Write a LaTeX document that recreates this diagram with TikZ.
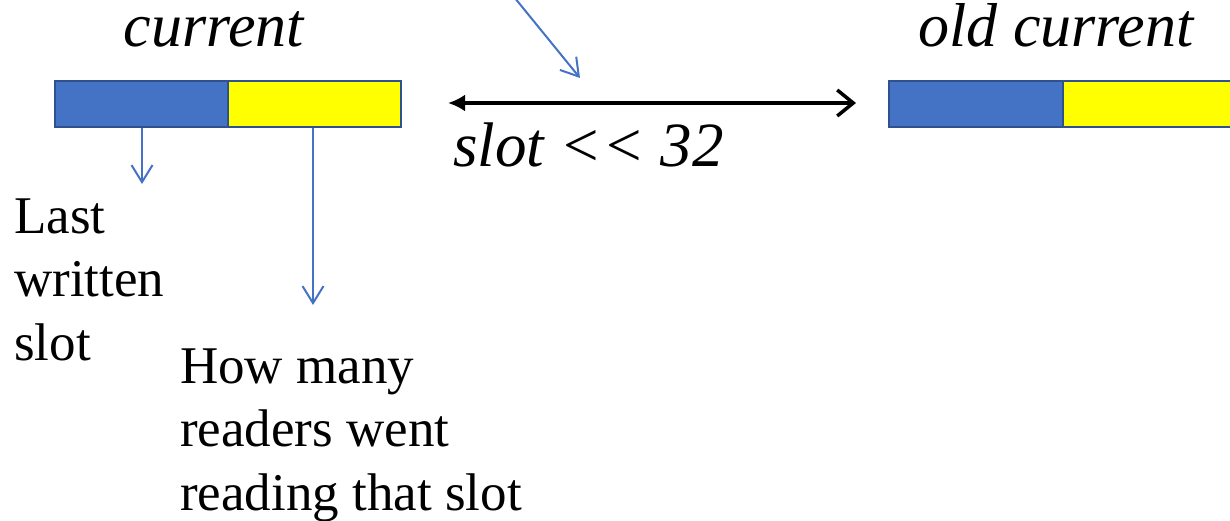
\documentclass[tikz,border=0pt]{standalone}
\usepackage{fontspec}
\setmainfont{Liberation Serif}
\usetikzlibrary{arrows.meta}
\definecolor{fillblue}{HTML}{4472C4}
\definecolor{edgeblue}{HTML}{2F528F}
\definecolor{lineblue}{HTML}{4472C4}
\definecolor{fillyellow}{HTML}{FFFF00}
\tikzset{
  half/.style={draw=edgeblue, line width=2pt, minimum height=46pt, inner sep=0pt, anchor=north west},
  bluehalf/.style={half, fill=fillblue},
  yellowhalf/.style={half, fill=fillyellow},
  pointer/.style={draw=lineblue, line width=2pt, -{Straight Barb[length=17pt,width=21pt]}},
  title/.style={font=\fontsize{62}{66}\selectfont\itshape, anchor=base, inner sep=0pt},
  note/.style={font=\fontsize{53}{63.5}\selectfont, align=left, anchor=base west, inner sep=0pt},
}
\begin{document}
\begin{tikzpicture}[x=1pt,y=-1pt]
\useasboundingbox (0,0) rectangle (1230,521);
\begin{scope}
\clip (0,0) rectangle (1230,521);
% left register
\node[bluehalf, minimum width=173pt] (lb) at (54,80) {};
\node[yellowhalf, minimum width=173pt] (ly) at (227,80) {};
% right register
\node[bluehalf, minimum width=174pt] (rb) at (888,80) {};
\node[yellowhalf, minimum width=174pt] (ry) at (1062,80) {};
% titles
\node[title] (cur) at (214,47) {current};
\node[title] (old) at (1056,47) {old current};
% shift arrow and label
\coordinate (al) at (448,103);
\coordinate (ar) at (856,103);
\draw[line width=3.5pt, {Latex[length=17pt,width=17pt]}-{Straight Barb[length=16pt,width=26pt]}] (al) -- (ar);
\node[font=\fontsize{63}{66}\selectfont\itshape, anchor=base west, inner sep=0pt] (shift) at (453,167) {slot <{}< 32};
% pointer from above
\coordinate (topstart) at (510,-8);
\coordinate (topend) at (580,78);
\draw[pointer] (topstart) -- (topend);
% pointers down
\coordinate (p1) at (142,184);
\coordinate (p2) at (313,305);
\draw[pointer] (lb.south west -| p1) -- (p1);
\draw[pointer] (ly.south west -| p2) -- (p2);
% notes (base anchor = last line baseline)
\node[note] (last) at (14,360) {Last\\written\\slot};
\node[note] (how) at (180,510) {How many\\readers went\\reading that slot};
\end{scope}
\end{tikzpicture}
\end{document}
